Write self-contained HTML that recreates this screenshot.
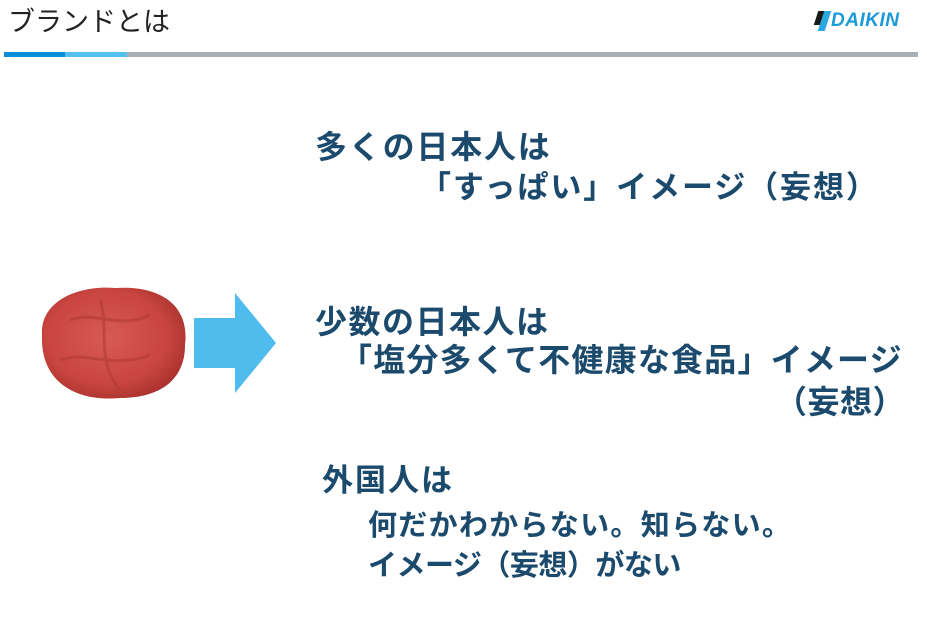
<!DOCTYPE html>
<html><head><meta charset="utf-8"><style>
body{margin:0;width:927px;height:629px;background:#fff;position:relative;overflow:hidden;font-family:"Liberation Sans","Noto Sans CJK JP",sans-serif}
.t{position:absolute;white-space:nowrap;color:#1b4a6d;font-weight:bold;line-height:1}
</style></head><body>
<div style="position:absolute;left:8px;top:6px;font-size:27px;color:#222;line-height:1;font-family:'Noto Sans CJK JP',sans-serif">ブランドとは</div>
<div style="position:absolute;left:816px;top:11px;width:8px;height:14px;background:#1a1a1a;transform:skewX(-18deg)"></div>
<div style="position:absolute;left:821px;top:11px;width:7px;height:20px;background:#2aa8e0;transform:skewX(-18deg)"></div>
<div style="position:absolute;left:831px;top:11px;font-size:19px;font-weight:bold;font-style:italic;color:#1a9ad8;line-height:1;letter-spacing:0.5px">DAIKIN</div>
<div style="position:absolute;left:4px;top:52px;width:61px;height:5px;background:#0a8fd6"></div>
<div style="position:absolute;left:65px;top:52px;width:62px;height:5px;background:#55c0f0"></div>
<div style="position:absolute;left:127px;top:52px;width:791px;height:5px;background:#a8b0b4"></div>
<svg style="position:absolute;left:0;top:0" width="927" height="629">
<defs><radialGradient id="g" cx="45%" cy="45%" r="60%"><stop offset="0" stop-color="#d95a55"/><stop offset="0.7" stop-color="#c9453f"/><stop offset="1" stop-color="#a8322e"/></radialGradient></defs>
<path d="M42 335 C40 300 80 285 115 288 C160 285 190 305 185 345 C185 380 160 398 120 398 C80 402 40 385 42 335 Z" fill="url(#g)"/>
<path d="M70 320 C95 310 120 330 150 315 M60 360 C90 350 110 370 150 355 M100 300 C110 330 95 360 120 390" stroke="#b23a36" stroke-width="3" fill="none" opacity="0.6"/>
<polygon points="194,318 235,318 235,293 276,343 235,393 235,368 194,368" fill="#4fbcee"/>
</svg>
<div class="t" style="left:315px;top:131px;font-size:32px;letter-spacing:1.8px">多くの日本人は</div>
<div class="t" style="left:420px;top:172px;font-size:31px;letter-spacing:1.9px">「すっぱい」イメージ（妄想）</div>
<div class="t" style="left:315px;top:306px;font-size:32px;letter-spacing:1.5px">少数の日本人は</div>
<div class="t" style="left:340px;top:344px;font-size:32px;letter-spacing:1.2px">「塩分多くて不健康な食品」イメージ</div>
<div class="t" style="left:775px;top:386px;font-size:32px;letter-spacing:0.5px">（妄想）</div>
<div class="t" style="left:322px;top:465px;font-size:31px;letter-spacing:2px">外国人は</div>
<div class="t" style="left:368px;top:512px;font-size:29px;letter-spacing:1.3px">何だかわからない。知らない。</div>
<div class="t" style="left:368px;top:552px;font-size:29px;letter-spacing:-0.5px">イメージ（妄想）がない</div>
</body></html>
